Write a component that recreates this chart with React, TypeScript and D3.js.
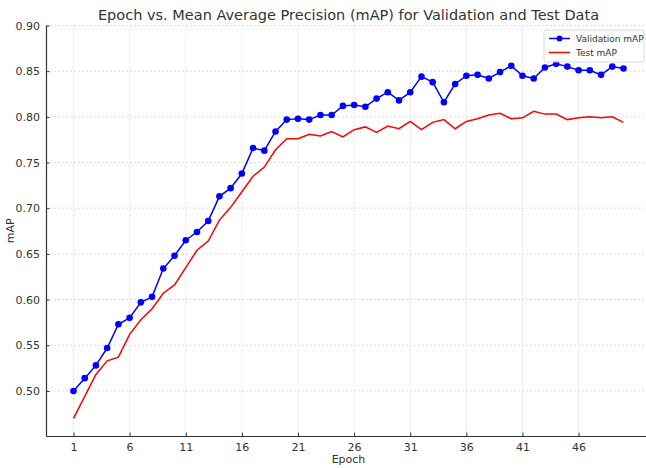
import React, { useEffect, useRef } from "react";
import * as d3 from "d3";

const epochs = d3.range(1, 51);

const validationMap = [
  0.500, 0.514, 0.528, 0.547, 0.573, 0.580, 0.597, 0.603, 0.634, 0.648,
  0.665, 0.674, 0.686, 0.713, 0.722, 0.738, 0.766, 0.763, 0.784, 0.797,
  0.798, 0.797, 0.802, 0.802, 0.812, 0.813, 0.811, 0.820, 0.827, 0.818,
  0.827, 0.844, 0.838, 0.816, 0.836, 0.845, 0.846, 0.842, 0.849, 0.856,
  0.845, 0.842, 0.854, 0.858, 0.855, 0.851, 0.851, 0.846, 0.855, 0.853,
];

const testMap = [
  0.470, 0.494, 0.518, 0.533, 0.537, 0.562, 0.578, 0.590, 0.607, 0.616,
  0.635, 0.654, 0.664, 0.687, 0.701, 0.718, 0.735, 0.745, 0.764, 0.776,
  0.776, 0.781, 0.779, 0.784, 0.778, 0.786, 0.789, 0.783, 0.790, 0.787,
  0.795, 0.786, 0.794, 0.797, 0.787, 0.795, 0.798, 0.802, 0.804, 0.798,
  0.799, 0.806, 0.803, 0.803, 0.797, 0.799, 0.800, 0.799, 0.800, 0.794,
];

const xTicks = [1, 6, 11, 16, 21, 26, 31, 36, 41, 46];
const yTicks = [0.5, 0.55, 0.6, 0.65, 0.7, 0.75, 0.8, 0.85, 0.9];

const App = () => {
  const ref = useRef<SVGSVGElement>(null);

  useEffect(() => {
    const width = 646;
    const height = 468;
    const margin = { top: 25.5, right: -5, bottom: 32, left: 46 };
    const innerW = width - margin.left - margin.right;
    const innerH = height - margin.top - margin.bottom;
    const font = "DejaVu Sans, sans-serif";
    const textColor = "#333";

    const svg = d3.select(ref.current);
    svg.selectAll("*").remove();

    const g = svg
      .append("g")
      .attr("transform", `translate(${margin.left},${margin.top})`);

    const x = d3.scaleLinear().domain([-1.45, 52.45]).range([0, innerW]);
    const y = d3.scaleLinear().domain([0.4507, 0.9]).range([innerH, 0]);

    // grid
    g.append("g")
      .selectAll("line")
      .data(xTicks)
      .join("line")
      .attr("x1", (d) => x(d))
      .attr("x2", (d) => x(d))
      .attr("y1", 0)
      .attr("y2", innerH)
      .attr("stroke", "#d4d4d4")
      .attr("stroke-width", 0.8)
      .attr("stroke-dasharray", "2,2");

    g.append("g")
      .selectAll("line")
      .data(yTicks)
      .join("line")
      .attr("x1", 0)
      .attr("x2", innerW)
      .attr("y1", (d) => y(d))
      .attr("y2", (d) => y(d))
      .attr("stroke", "#d4d4d4")
      .attr("stroke-width", 0.8)
      .attr("stroke-dasharray", "2,2");

    // axes
    const xAxis = g
      .append("g")
      .attr("transform", `translate(0,${innerH})`)
      .call(
        d3
          .axisBottom(x)
          .tickValues(xTicks)
          .tickSizeInner(-3.5)
          .tickSizeOuter(0)
          .tickPadding(7)
      );
    const yAxis = g.append("g").call(
      d3
        .axisLeft(y)
        .tickValues(yTicks)
        .tickFormat(d3.format(".2f"))
        .tickSizeInner(-3.5)
        .tickSizeOuter(0)
        .tickPadding(6)
    );
    [xAxis, yAxis].forEach((a) => {
      a.select(".domain").attr("stroke", textColor).attr("stroke-width", 1.2);
      a.selectAll(".tick line").attr("stroke", textColor);
      a.selectAll(".tick text")
        .attr("fill", textColor)
        .style("font-family", font)
        .style("font-size", "11px");
    });

    // lines
    const line = d3
      .line<number>()
      .x((d, i) => x(epochs[i]))
      .y((d) => y(d));

    g.append("path")
      .datum(testMap)
      .attr("fill", "none")
      .attr("stroke", "#ff0000")
      .attr("stroke-width", 1.5)
      .attr("d", line);

    g.append("path")
      .datum(validationMap)
      .attr("fill", "none")
      .attr("stroke", "#0000ff")
      .attr("stroke-width", 1.5)
      .attr("d", line);

    g.append("g")
      .selectAll("circle")
      .data(validationMap)
      .join("circle")
      .attr("cx", (d, i) => x(epochs[i]))
      .attr("cy", (d) => y(d))
      .attr("r", 3.3)
      .attr("fill", "#0000ff");

    // title and labels
    svg
      .append("text")
      .attr("x", margin.left + innerW / 2)
      .attr("y", 20)
      .attr("text-anchor", "middle")
      .attr("fill", textColor)
      .style("font-family", font)
      .style("font-size", "14.5px")
      .text("Epoch vs. Mean Average Precision (mAP) for Validation and Test Data");

    svg
      .append("text")
      .attr("x", margin.left + innerW / 2)
      .attr("y", 463)
      .attr("text-anchor", "middle")
      .attr("fill", textColor)
      .style("font-family", font)
      .style("font-size", "11px")
      .text("Epoch");

    svg
      .append("text")
      .attr("transform", `translate(14,${margin.top + innerH / 2}) rotate(-90)`)
      .attr("text-anchor", "middle")
      .attr("fill", textColor)
      .style("font-family", font)
      .style("font-size", "11px")
      .text("mAP");

    // legend
    const legend = svg.append("g").attr("transform", "translate(544,30)");
    legend
      .append("rect")
      .attr("width", 100)
      .attr("height", 32)
      .attr("rx", 2.5)
      .attr("fill", "white")
      .attr("fill-opacity", 0.8)
      .attr("stroke", "#d0d0d0")
      .attr("stroke-width", 0.8);

    const items = [
      { label: "Validation mAP", color: "#0000ff", marker: true },
      { label: "Test mAP", color: "#ff0000", marker: false },
    ];
    items.forEach((it, i) => {
      const row = legend.append("g").attr("transform", `translate(5,${8.5 + i * 14})`);
      row
        .append("line")
        .attr("x1", 0)
        .attr("x2", 21)
        .attr("stroke", it.color)
        .attr("stroke-width", 1.5);
      if (it.marker) {
        row.append("circle").attr("cx", 10.5).attr("r", 3).attr("fill", it.color);
      }
      row
        .append("text")
        .attr("x", 27)
        .attr("dy", "0.35em")
        .attr("fill", textColor)
        .style("font-family", font)
        .style("font-size", "9px")
        .text(it.label);
    });
  }, []);

  return (
    <svg
      ref={ref}
      width={646}
      height={468}
      style={{ position: "absolute", left: 0, top: 0, background: "white" }}
    />
  );
};

export default App;
